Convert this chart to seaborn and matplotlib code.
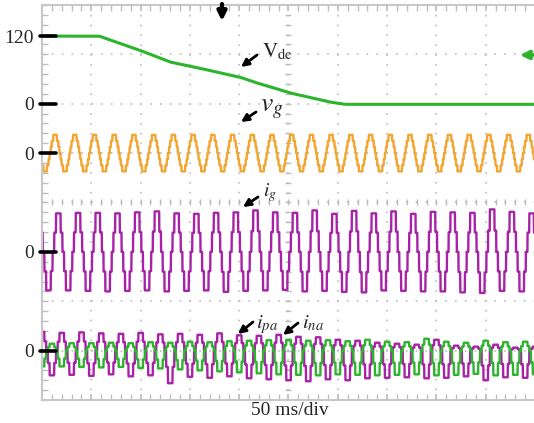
import numpy as np
import pandas as pd
import matplotlib
matplotlib.use("Agg")
import matplotlib.pyplot as plt
import seaborn as sns

# values: time in ms, levels in screen divisions
period_ms = 20.0
span_ms = 499.0

# DC link voltage (V) breakpoints
vdc_t = [0, 58, 99, 130, 160, 201, 216, 252, 292, 307, 499]
vdc_v = [120, 120, 95, 74, 63, 47, 38, 19, 3, -1, -1]
vdc_zero = 6.0
vdc_div_per_volt = 1.37 / 120

# grid voltage: first peak time and peak size (div)
vg_zero = 5.0
vg_peak_ms = 13.2
vg_amp = 0.37

# grid current, positive peaks / negative troughs per cycle (div)
ig_zero = 3.0
ig_peak_ms = 16.5
ig_hi = [0.78, 0.79, 0.79, 0.78, 0.80, 0.82, 0.78, 0.77, 0.79, 0.80, 0.84, 0.80, 0.79,
         0.84, 0.77, 0.83, 0.78, 0.82, 0.77, 0.81, 0.80, 0.79, 0.86, 0.81, 0.78, 0.80]
ig_lo = [-0.78, -0.79, -0.80, -0.79, -0.78, -0.80, -0.79, -0.78, -0.81, -0.79, -0.78, -0.77, -0.80,
         -0.79, -0.81, -0.82, -0.78, -0.79, -0.80, -0.80, -0.82, -0.83, -0.79, -0.80, -0.78, -0.79]

# arm currents (div)
arm_zero = 1.0
ipa_peak_ms = 0.0
ipa_hi = [0.38, 0.36, 0.37, 0.35, 0.34, 0.36, 0.33, 0.34, 0.32, 0.35, 0.31, 0.30, 0.32,
          0.28, 0.27, 0.22, 0.20, 0.16, 0.14, 0.12, 0.22, 0.10, 0.08, 0.12, 0.06, 0.08]
ipa_lo = [-0.50, -0.49, -0.51, -0.48, -0.52, -0.50, -0.66, -0.53, -0.55, -0.52, -0.56, -0.58, -0.60,
          -0.62, -0.58, -0.60, -0.56, -0.55, -0.54, -0.56, -0.55, -0.52, -0.60, -0.54, -0.55, -0.53]
ina_peak_ms = 10.0
ina_hi = [0.14, 0.15, 0.15, 0.16, 0.15, 0.17, 0.16, 0.18, 0.17, 0.19, 0.20, 0.21, 0.22,
          0.20, 0.21, 0.19, 0.22, 0.18, 0.17, 0.24, 0.18, 0.16, 0.20, 0.17, 0.18, 0.19]
ina_lo = [-0.32, -0.33, -0.34, -0.33, -0.35, -0.36, -0.38, -0.40, -0.42, -0.44, -0.46, -0.48, -0.49,
          -0.50, -0.48, -0.49, -0.50, -0.49, -0.48, -0.50, -0.49, -0.47, -0.50, -0.49, -0.48, -0.49]

level_pos = [7.37, 6.0, 5.0, 3.0, 1.0]
level_labels = ["120", "0", "0", "0", "0"]

c_green = "#2cb42c"
c_orange = "#f2a530"
c_magenta = "#a822a8"


def stairs(t, t_pk, hi, lo, steps=2):
    # multilevel staircase sine, sized per cycle by hi / lo
    q = np.round(np.cos(2 * np.pi * (t - t_pk) / period_ms) * steps) / steps
    i_hi = np.clip(np.round((t - t_pk) / period_ms).astype(int), 0, len(hi) - 1)
    i_lo = np.clip(np.round((t - t_pk - period_ms / 2) / period_ms).astype(int), 0, len(lo) - 1)
    return np.where(q >= 0, q * np.take(hi, i_hi), -q * np.take(lo, i_lo))


t = np.arange(0, span_ms + 0.05, 0.1)
df = pd.DataFrame({
    "t": t,
    "vdc": vdc_zero + np.interp(t, vdc_t, vdc_v) * vdc_div_per_volt,
    "vg": vg_zero + stairs(t, vg_peak_ms, [vg_amp], [-vg_amp], steps=3),
    "ig": ig_zero + stairs(t, ig_peak_ms, ig_hi, ig_lo),
    "ipa": arm_zero + stairs(t, ipa_peak_ms, ipa_hi, ipa_lo),
    "ina": arm_zero + stairs(t, ina_peak_ms, ina_hi, ina_lo),
})

sns.set_theme(style="white")
plt.rcParams["font.family"] = ["Liberation Serif", "DejaVu Serif"]
plt.rcParams["mathtext.fontset"] = "stix"

fig = plt.figure(figsize=(5.34, 4.23), dpi=100)
ax = fig.add_axes([42 / 534, 23 / 423, 492 / 534, 395 / 423])


def px(x, y):
    # screen pixel -> data coords, for annotations only
    return (x - 42) * span_ms / 492, (400 - y) / 49.375


# dotted scope graticule
for gx in np.arange(50, 500, 50):
    ax.axvline(gx, color="#bdbdbd", lw=1.2, ls=(0, (1, 4.9)), zorder=0)
for gy in range(1, 8):
    ax.axhline(gy, color="#bdbdbd", lw=1.2, ls=(0, (1, 4.9)), zorder=0)
ax.plot(np.arange(10, 500, 10), np.full(49, 4.0), ls="none", marker="|", ms=5,
        mew=1.0, color="#bdbdbd", zorder=0)
ax.plot(np.full(39, 250.0), np.arange(0.2, 7.9, 0.2), ls="none", marker="_", ms=5,
        mew=1.0, color="#bdbdbd", zorder=0)

sns.lineplot(data=df, x="t", y="vdc", ax=ax, color=c_green, lw=2.2, estimator=None)
sns.lineplot(data=df, x="t", y="vg", ax=ax, color=c_orange, lw=1.7, estimator=None)
sns.lineplot(data=df, x="t", y="ig", ax=ax, color=c_magenta, lw=1.7, estimator=None)
sns.lineplot(data=df, x="t", y="ipa", ax=ax, color=c_magenta, lw=1.7, estimator=None)
sns.lineplot(data=df, x="t", y="ina", ax=ax, color=c_green, lw=1.7, estimator=None)

ax.set_xlim(0, span_ms)
ax.set_ylim(0, 8)
ax.set_xlabel("")
ax.set_ylabel("")

ax.set_xticks(np.arange(0, 500, 50))
ax.set_xticks(np.arange(0, 500, 10), minor=True)
ax.set_xticklabels([])
ax.set_yticks(level_pos)
ax.set_yticklabels(level_labels, fontsize=14)
ax.set_yticks(np.arange(0, 8.01, 0.2), minor=True)
ax.tick_params(axis="x", which="both", direction="in", length=4, color="#bdbdbd",
               top=True, bottom=True)
ax.tick_params(axis="y", which="minor", direction="in", length=4, color="#bdbdbd", left=True)
ax.tick_params(axis="y", which="major", length=0, pad=6, left=True)
for side in ["left", "top", "bottom"]:
    ax.spines[side].set_color("#c8c8c8")
    ax.spines[side].set_linewidth(1.5)
ax.spines["right"].set_visible(False)

# black channel markers on the left edge
for lv in level_pos:
    ax.plot([-2, 14], [lv, lv], color="black", lw=2.6, clip_on=False, zorder=5)

# trace labels with small arrows
arrow = dict(arrowstyle="-|>", color="black", lw=2.0, mutation_scale=11,
             shrinkA=0, shrinkB=0)
ax.annotate("", xy=px(241, 67), xytext=px(257, 55), arrowprops=arrow)
ax.text(*px(262, 57), r"$\mathrm{V}_{\mathrm{dc}}$", fontsize=15, va="baseline")
ax.annotate("", xy=px(241, 122), xytext=px(256, 112), arrowprops=arrow)
ax.text(*px(260, 111), r"$v_g$", fontsize=20, va="baseline")
ax.annotate("", xy=px(243, 207), xytext=px(258, 197), arrowprops=arrow)
ax.text(*px(263, 196), r"$i_g$", fontsize=14, va="baseline")
ax.annotate("", xy=px(238, 334), xytext=px(253, 322), arrowprops=arrow)
ax.text(*px(256, 328), r"$i_{pa}$", fontsize=15, va="baseline")
ax.annotate("", xy=px(283, 335), xytext=px(298, 323), arrowprops=arrow)
ax.text(*px(302, 328), r"$i_{na}$", fontsize=15, va="baseline")

# trigger and reference markers
ax.annotate("", xy=px(222, 21), xytext=px(222, 4), annotation_clip=False,
            arrowprops=dict(arrowstyle="-|>", color="black", lw=3.0, mutation_scale=13,
                            shrinkA=0, shrinkB=0))
ax.annotate("", xy=px(520, 55), xytext=px(536, 55), annotation_clip=False,
            arrowprops=dict(arrowstyle="-|>", color=c_green, lw=2.5, mutation_scale=13,
                            shrinkA=0, shrinkB=0))

fig.text(290 / 534, 1 - 410 / 423, "50 ms/div", ha="center", va="center", fontsize=14)

fig.savefig("out.png", dpi=100)
